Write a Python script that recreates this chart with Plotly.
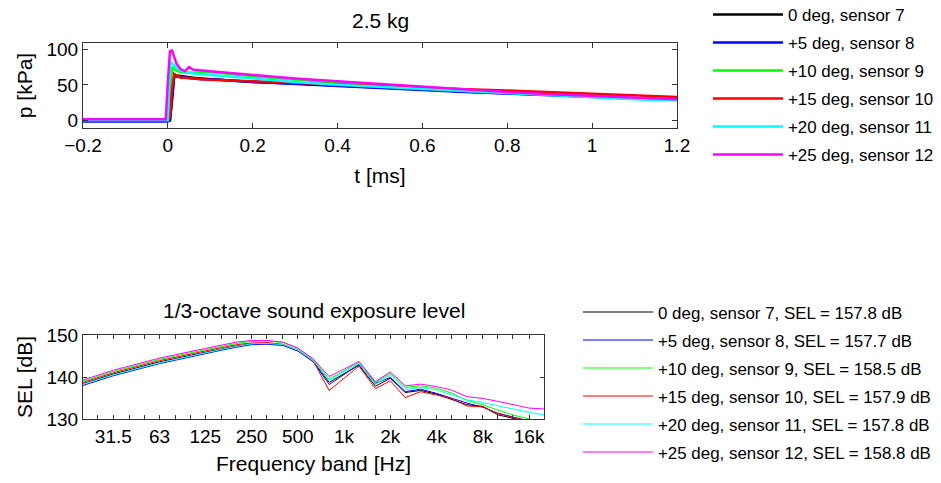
import plotly.graph_objects as go

# ---------------- data ----------------
series_names_top = ["0 deg, sensor 7", "+5 deg, sensor 8", "+10 deg, sensor 9",
                    "+15 deg, sensor 10", "+20 deg, sensor 11", "+25 deg, sensor 12"]
series_colors = ["#000000", "#0000ff", "#00ff00", "#ff0000", "#00ffff", "#ff00ff"]
sel_totals = [157.8, 157.7, 158.5, 157.9, 157.8, 158.8]

# pressure time histories [kPa] vs time [ms]
t_ms = [-0.2, -0.005, 0.0, 0.005, 0.01, 0.015, 0.02, 0.03, 0.04, 0.05, 0.06, 0.08, 0.1,
        0.2, 0.3, 0.4, 0.5, 0.6, 0.7, 0.8, 0.9, 1.0, 1.1, 1.2]
p_s7 = [0, 0, 0, 0, 30, 65, 63, 62, 61, 60, 60, 59, 58, 54, 52, 49, 46, 43, 41, 38, 36, 33, 31, 29]
p_s8 = [-1.4, -1.4, -1.4, 2, 30, 61.5, 62, 61, 60, 59, 59, 58, 58, 54, 51, 48, 46, 43, 40, 38, 35, 33, 31, 29]
p_s9 = [0, 0, 0, 30, 75, 72, 70, 68, 67, 67, 67, 68, 68, 62, 57, 53, 49, 46, 43, 40, 37, 35, 32, 30]
p_s10 = [0.5, 0.5, 0.5, 5, 45, 65, 63, 60, 60, 59, 59, 58, 57, 55, 53, 51, 48, 46, 44, 42, 40, 37, 35, 33]
p_s11 = [1, 1, 1, 83, 80, 77, 74, 70, 68, 67, 66, 65, 64, 58, 54, 50, 47, 44, 41, 38, 35, 32, 30, 28]
p_s12 = [2, 2, 55, 97, 98, 88, 80, 72, 69, 75, 71, 70, 69, 64, 59, 55, 51, 47, 44, 40, 37, 35, 32, 30]
pressure = [p_s7, p_s8, p_s9, p_s10, p_s11, p_s12]

# 1/3-octave bands [Hz] and SEL [dB]
bands_hz = [20, 25, 31.5, 40, 50, 63, 80, 100, 125, 160, 200, 250, 315, 400, 500, 630, 800,
            1000, 1250, 1600, 2000, 2500, 3150, 4000, 5000, 6300, 8000, 10000, 12500, 16000, 20000]
band_labels = ["", "", "31.5", "", "", "63", "", "", "125", "", "", "250", "", "", "500", "",
               "", "1k", "", "", "2k", "", "", "4k", "", "", "8k", "", "", "16k", ""]
sel_s7 = [138.4, 139.6, 140.7, 141.7, 142.7, 143.6, 144.4, 145.2, 145.9, 146.7, 147.4, 147.9, 148.0,
          147.6, 146.3, 143.8, 138.7, 140.8, 142.8, 137.8, 139.7, 136.3, 136.8, 135.9, 134.6, 133.4,
          133.0, 131.0, 130.2, 129.1, 128.3]
sel_s8 = [138.0, 139.2, 140.3, 141.3, 142.3, 143.2, 144.0, 144.8, 145.6, 146.4, 147.1, 147.7, 147.8,
          147.5, 146.2, 143.6, 138.2, 140.6, 143.0, 138.5, 139.9, 136.5, 137.1, 136.1, 134.9, 133.8,
          132.8, 131.4, 130.5, 129.5, 128.7]
sel_s9 = [139.0, 140.2, 141.3, 142.3, 143.3, 144.2, 145.0, 145.8, 146.5, 147.3, 148.0, 148.5, 148.6,
          148.2, 146.8, 144.2, 139.5, 141.5, 143.5, 138.7, 140.9, 137.5, 137.9, 137.3, 136.2, 134.4,
          133.4, 132.1, 131.0, 130.0, 129.1]
sel_s10 = [138.7, 139.9, 141.0, 142.0, 143.0, 143.9, 144.7, 145.5, 146.2, 147.0, 147.7, 148.1, 148.2,
           147.8, 146.4, 143.8, 136.8, 139.7, 142.6, 137.2, 139.1, 135.1, 136.5, 135.7, 134.9, 133.1,
           132.9, 131.3, 130.3, 129.4, 128.6]
sel_s11 = [138.3, 139.4, 140.5, 141.5, 142.5, 143.4, 144.2, 145.0, 145.8, 146.6, 147.3, 147.9, 148.0,
           147.7, 146.4, 143.9, 139.2, 141.3, 143.2, 138.2, 140.5, 137.0, 137.5, 136.9, 135.8, 134.6,
           133.9, 133.1, 132.4, 131.6, 131.0]
sel_s12 = [139.3, 140.5, 141.6, 142.6, 143.6, 144.5, 145.3, 146.1, 146.8, 147.6, 148.3, 148.7, 148.7,
           148.3, 146.9, 144.3, 140.1, 141.9, 143.7, 138.9, 141.2, 137.9, 138.3, 137.7, 136.9, 135.3,
           134.9, 134.2, 133.4, 132.6, 132.4]
sel = [sel_s7, sel_s8, sel_s9, sel_s10, sel_s11, sel_s12]

# ---------------- figure ----------------
W, H = 941, 483
FONT = "Liberation Sans, Arial, Helvetica, sans-serif"
LEG_FONT = 22 / 1.3  # gives an integer legend row height

def px_x(x):
    return x / W

def px_y(y):
    return 1 - y / H

fig = go.Figure()

for i, (name, col, yv) in enumerate(zip(series_names_top, series_colors, pressure)):
    fig.add_trace(go.Scatter(x=t_ms, y=yv, mode="lines", name=name,
                             line=dict(color=col, width=2.5),
                             xaxis="x", yaxis="y", legend="legend",
                             legendgroup=f"top{i}"))

for i, (name, col, yv, tot) in enumerate(zip(series_names_top, series_colors, sel, sel_totals)):
    fig.add_trace(go.Scatter(x=bands_hz, y=yv, mode="lines",
                             name=f"{name}, SEL = {tot:.1f} dB",
                             line=dict(color=col, width=1),
                             xaxis="x2", yaxis="y2", legend="legend2",
                             legendgroup=f"bot{i}"))

axis_common = dict(showline=True, linecolor="#333333", linewidth=1, mirror="ticks",
                   ticks="inside", tickcolor="#333333", showgrid=False, zeroline=False,
                   automargin=False, tickfont=dict(size=19, color="black", family=FONT))

fig.update_layout(
    width=W, height=H,
    margin=dict(l=0, r=0, t=0, b=0, autoexpand=False),
    paper_bgcolor="white", plot_bgcolor="white",
    font=dict(family=FONT, color="black"),
    showlegend=True,
    xaxis=dict(domain=[px_x(83), px_x(677)], range=[-0.2, 1.2], tick0=0, dtick=0.2,
               ticklen=5, anchor="y",
               title=dict(text="t [ms]", font=dict(size=21), standoff=13), **axis_common),
    yaxis=dict(domain=[px_y(128), px_y(43)], range=[-10.4, 108.6], tickvals=[0, 50, 100],
               ticklen=5, anchor="x",
               title=dict(text="p [kPa]", font=dict(size=21), standoff=8), **axis_common),
    xaxis2=dict(domain=[px_x(83), px_x(544)], type="log", range=[1.30103, 4.30103],
                tickvals=bands_hz, ticktext=band_labels, ticklen=4, anchor="y2",
                title=dict(text="Frequency band [Hz]", font=dict(size=21), standoff=10), **axis_common),
    yaxis2=dict(domain=[px_y(419), px_y(335)], range=[130, 150], tickvals=[130, 140, 150],
                ticklen=4, anchor="x2",
                title=dict(text="SEL [dB]", font=dict(size=21), standoff=8), **axis_common),
    legend=dict(x=px_x(708), y=px_y(-3), xanchor="left", yanchor="top",
                font=dict(size=LEG_FONT, color="black", family=FONT), itemwidth=70,
                tracegroupgap=3, bgcolor="rgba(0,0,0,0)", borderwidth=0),
    legend2=dict(x=px_x(578), y=px_y(294.5), xanchor="left", yanchor="top",
                 font=dict(size=LEG_FONT, color="black", family=FONT), itemwidth=70,
                 tracegroupgap=3, bgcolor="rgba(0,0,0,0)", borderwidth=0),
    annotations=[
        dict(text="2.5 kg", x=(px_x(83) + px_x(677)) / 2, y=px_y(20), xref="paper", yref="paper",
             showarrow=False, xanchor="center", yanchor="middle", font=dict(size=21)),
        dict(text="1/3-octave sound exposure level", x=(px_x(83) + px_x(544)) / 2, y=px_y(310),
             xref="paper", yref="paper", showarrow=False, xanchor="center", yanchor="middle",
             font=dict(size=21)),
    ],
)

fig.write_html("out.html", config={"displayModeBar": False},
               post_script="document.body.style.margin='0';")
